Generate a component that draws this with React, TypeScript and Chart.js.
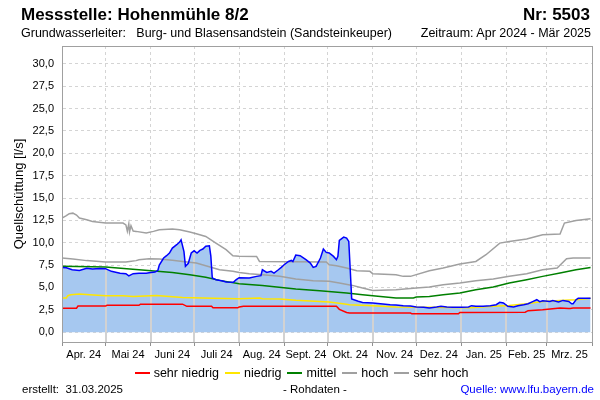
import React, { useEffect, useRef } from "react";
import { Chart, registerables } from "chart.js";

Chart.register(...registerables);

// ---- Axis / label data ----
const monthLabels = ["Apr. 24", "Mai 24", "Juni 24", "Juli 24", "Aug. 24", "Sept. 24", "Okt. 24", "Nov. 24", "Dez. 24", "Jan. 25", "Feb. 25", "Mrz. 25"];
const monthStartDays = [0, 30, 61, 91, 122, 153, 183, 214, 244, 275, 306, 334, 365];
const yTickValues = [0, 2.5, 5, 7.5, 10, 12.5, 15, 17.5, 20, 22.5, 25, 27.5, 30];
const legendLabels = ["sehr niedrig", "niedrig", "mittel", "hoch", "sehr hoch"];

// ---- Rohdaten (Quellschüttung, l/s), day index from 1 Apr 2024 ----
const flowDays = [0, 3, 7, 12, 17, 21, 26, 30, 34, 40, 44, 46, 49, 53, 58, 60, 64, 66, 67, 70, 72, 74, 76, 79, 81, 82, 84, 85, 87, 89, 91, 93, 95, 97, 99, 101.5, 102.5, 103.5, 106, 110, 113, 118, 120, 122, 129, 134, 137, 138, 141, 144, 146, 149, 151, 153, 156, 158, 159, 161, 164, 168, 171, 173, 175, 178, 180, 182, 184, 187, 189, 190, 191, 194, 196, 197.5, 198.5, 199.5, 204, 207, 214, 221, 226, 230, 235, 240, 244, 249, 253, 258, 261, 265, 269, 275, 280, 282, 285, 290, 295, 299, 301.5, 304, 307, 311, 314, 318, 321, 324.5, 327, 329, 331, 336, 338, 342, 345, 349, 351, 352, 354, 355.5, 364];
const flowValues = [7.24, 7.2, 6.98, 6.9, 7.15, 7.06, 7.13, 7.1, 6.8, 6.6, 6.54, 6.3, 6.54, 6.6, 6.6, 6.64, 6.72, 6.9, 7.5, 8.29, 8.55, 8.85, 9.4, 9.78, 10.07, 10.33, 9.0, 7.36, 7.7, 8.85, 9.1, 8.85, 9.15, 9.3, 9.6, 9.66, 8.5, 6.05, 5.87, 5.75, 5.6, 5.58, 5.87, 6.09, 6.05, 6.24, 6.32, 6.98, 6.68, 6.8, 6.61, 6.98, 7.24, 7.54, 7.9, 8.02, 7.9, 8.62, 8.55, 8.1, 7.73, 7.24, 7.36, 8.29, 9.29, 8.92, 8.85, 8.47, 8.1, 8.47, 10.26, 10.63, 10.52, 10.15, 7.0, 3.7, 3.45, 3.33, 3.26, 3.15, 3.07, 3.04, 2.96, 2.93, 2.81, 2.78, 2.7, 2.81, 2.89, 2.81, 2.78, 2.78, 2.81, 2.96, 2.89, 2.89, 2.96, 3.07, 3.33, 3.26, 2.89, 2.81, 2.96, 3.07, 3.18, 3.44, 3.63, 3.41, 3.52, 3.44, 3.55, 3.37, 3.55, 3.44, 3.18, 3.18, 3.63, 3.78, 3.78];

// ---- Reference lines ----
const sehrNiedrigDays = [0, 10, 11, 30, 31, 53, 54, 83, 86, 103, 104, 121, 122, 125, 189, 191, 196, 198, 240, 241, 273, 274, 319, 321, 331, 343, 349, 350, 352, 364];
const sehrNiedrigValues = [2.68, 2.68, 2.92, 2.92, 3.0, 3.0, 3.13, 3.13, 2.89, 2.89, 2.72, 2.72, 2.81, 2.89, 2.89, 2.55, 2.2, 2.14, 2.14, 2.05, 2.05, 2.2, 2.24, 2.4, 2.5, 2.7, 2.65, 2.65, 2.7, 2.7];

const niedrigDays = [0, 3, 4, 6, 12, 19, 30, 42, 49, 65, 83, 104, 122, 136, 138, 150, 161, 184, 193.5, 198, 214, 230, 253, 281, 297, 308, 320, 331, 343, 354, 364];
const niedrigValues = [3.82, 3.82, 4.08, 4.19, 4.26, 4.19, 4.08, 4.08, 4.0, 4.11, 3.89, 3.78, 3.74, 3.82, 3.74, 3.71, 3.56, 3.37, 3.18, 3.07, 2.96, 2.81, 2.78, 2.72, 2.89, 2.99, 3.18, 3.44, 3.55, 3.63, 3.8];

const mittelDays = [0, 30, 53, 76, 88, 99, 108.5, 122, 138, 161, 177.5, 196, 207, 214, 230, 242, 244, 253, 262.5, 274, 285, 297, 308, 320, 331, 343, 354, 364];
const mittelValues = [7.36, 7.28, 6.98, 6.68, 6.42, 6.13, 5.79, 5.42, 5.23, 4.82, 4.64, 4.38, 4.19, 4.08, 3.82, 3.82, 3.93, 4.0, 4.19, 4.38, 4.75, 5.05, 5.49, 5.87, 6.24, 6.61, 6.98, 7.24];

const hochDays = [0, 7.5, 17, 30, 44, 46.5, 51, 53, 60, 67, 76, 83, 92.5, 99, 108.5, 117.7, 122, 129, 138, 150, 161, 173, 184, 191, 200, 207, 214, 230, 244, 253, 262.5, 274, 285, 297, 308, 320, 331, 341, 347.5, 352, 364];
const hochValues = [8.29, 8.18, 8.0, 7.84, 7.84, 7.91, 8.0, 8.1, 8.2, 8.18, 8.03, 7.91, 7.73, 7.43, 6.98, 6.8, 6.68, 6.54, 6.42, 6.24, 5.94, 5.75, 5.68, 5.49, 5.23, 4.93, 4.67, 4.75, 4.93, 5.05, 5.3, 5.49, 5.75, 5.94, 6.24, 6.54, 6.98, 7.17, 8.2, 8.29, 8.29];

const sehrHochDays = [0, 3, 5, 7.5, 10, 12, 17, 21, 30, 42, 44, 45, 46, 46.5, 47.5, 49, 51, 58, 63, 67, 76, 81, 88, 92.5, 99, 106, 113, 117.7, 122, 134, 136, 182, 184, 189, 196, 203, 212, 214, 230, 235, 240, 253, 262.5, 274, 285, 292, 301.5, 308, 320, 331, 343, 346, 354, 364];
const sehrHochValues = [12.76, 13.02, 13.25, 13.31, 13.1, 12.76, 12.57, 12.38, 12.2, 12.2, 12.0, 11.3, 12.1, 11.2, 11.9, 11.3, 11.27, 11.08, 11.27, 11.45, 11.53, 11.45, 11.2, 11.0, 10.7, 9.96, 9.22, 8.55, 8.5, 8.47, 7.91, 7.84, 7.54, 7.43, 7.17, 6.87, 6.8, 6.54, 6.42, 6.24, 6.24, 6.87, 7.17, 7.61, 7.91, 8.66, 9.96, 10.15, 10.41, 10.89, 10.97, 12.2, 12.49, 12.68];

const FONT = "'Liberation Sans', Arial, Helvetica, sans-serif";
const FILL_COLOR = "#a6c8f0";
const legendColors = ["#ff0000", "#ffe600", "#008000", "#a0a0a0", "#a0a0a0"];

function toPoints(xs: number[], ys: number[]) {
  return xs.map((x, i) => ({ x, y: ys[i] }));
}

function interp(xs: number[], ys: number[], x: number) {
  if (x <= xs[0]) return ys[0];
  for (let i = 1; i < xs.length; i++) {
    if (x <= xs[i]) {
      const t = (x - xs[i - 1]) / (xs[i] - xs[i - 1]);
      return ys[i - 1] + t * (ys[i] - ys[i - 1]);
    }
  }
  return ys[ys.length - 1];
}

const monthMids = monthLabels.map((_, i) => (monthStartDays[i] + monthStartDays[i + 1]) / 2);

const monthLinesPlugin = {
  id: "monthLines",
  afterDatasetDraw(chart: any, args: any) {
    if (args.index !== 0) return;
    const { ctx, chartArea, scales } = chart;
    ctx.save();
    ctx.strokeStyle = "#d2d2d2";
    ctx.lineWidth = 2;
    for (const d of monthStartDays.slice(1, -1)) {
      const v = interp(flowDays, flowValues, d);
      const x = Math.round(scales.x.getPixelForValue(d));
      ctx.beginPath();
      ctx.moveTo(x, chartArea.bottom);
      ctx.lineTo(x, scales.y.getPixelForValue(v));
      ctx.stroke();
    }
    ctx.restore();
  },
  afterDraw(chart: any) {
    const { ctx, chartArea } = chart;
    ctx.save();
    ctx.strokeStyle = "#a0a0a0";
    ctx.lineWidth = 1;
    ctx.strokeRect(
      Math.round(chartArea.left) + 0.5,
      Math.round(chartArea.top) + 0.5,
      Math.round(chartArea.right - chartArea.left),
      Math.round(chartArea.bottom - chartArea.top)
    );
    ctx.restore();
  },
};

function ChartCanvas() {
  const ref = useRef<HTMLCanvasElement | null>(null);
  useEffect(() => {
    if (!ref.current) return;
    const lineDs = (label: string, xs: number[], ys: number[], color: string, order: number) => ({
      label,
      data: toPoints(xs, ys),
      borderColor: color,
      backgroundColor: color,
      borderWidth: 1.5,
      pointRadius: 0,
      fill: false,
      tension: 0,
      order,
    });
    const chart = new Chart(ref.current, {
      type: "line",
      data: {
        datasets: [
          {
            label: "fill",
            data: toPoints(flowDays, flowValues),
            borderWidth: 0,
            borderColor: "rgba(0,0,0,0)",
            backgroundColor: FILL_COLOR,
            pointRadius: 0,
            fill: { value: 0 },
            tension: 0,
            order: 10,
          },
          lineDs(legendLabels[4], sehrHochDays, sehrHochValues, legendColors[4], 6),
          lineDs(legendLabels[3], hochDays, hochValues, legendColors[3], 5),
          lineDs(legendLabels[2], mittelDays, mittelValues, legendColors[2], 4),
          lineDs(legendLabels[1], niedrigDays, niedrigValues, legendColors[1], 3),
          lineDs(legendLabels[0], sehrNiedrigDays, sehrNiedrigValues, legendColors[0], 2),
          lineDs("Rohdaten", flowDays, flowValues, "#0000ff", 1),
        ],
      },
      options: {
        responsive: false,
        maintainAspectRatio: false,
        animation: false,
        devicePixelRatio: 1,
        layout: { padding: { top: 46, right: 8, bottom: 38, left: 0 } },
        plugins: {
          legend: { display: false },
          tooltip: { enabled: false },
          title: { display: false },
        },
        scales: {
          x: {
            type: "linear",
            min: 0,
            max: 365,
            afterBuildTicks: (axis: any) => {
              const vals = [...monthStartDays, ...monthMids].sort((a, b) => a - b);
              axis.ticks = vals.map((v) => ({ value: v }));
            },
            afterFit: (s: any) => {
              s.height = 20;
            },
            ticks: {
              autoSkip: false,
              maxRotation: 0,
              minRotation: 0,
              padding: 2,
              color: "#000",
              font: { family: FONT, size: 11 },
              callback: (value: any) => {
                const i = monthMids.findIndex((m) => Math.abs(m - Number(value)) < 0.01);
                return i >= 0 ? monthLabels[i] : "";
              },
            },
            grid: {
              color: (ctx: any) =>
                ctx.tick && monthStartDays.includes(ctx.tick.value) ? "#d4d4d4" : "rgba(0,0,0,0)",
              tickColor: (ctx: any) =>
                ctx.tick && monthStartDays.includes(ctx.tick.value) ? "#909090" : "rgba(0,0,0,0)",
              tickLength: 4,
              lineWidth: 1,
            },
            border: { display: true, color: "#a0a0a0", dash: [3, 3] },
          },
          y: {
            type: "linear",
            min: -1.1,
            max: 32,
            afterBuildTicks: (axis: any) => {
              axis.ticks = yTickValues.map((v) => ({ value: v }));
            },
            afterFit: (s: any) => {
              s.width = 62;
            },
            ticks: {
              padding: 8,
              color: "#000",
              font: { family: FONT, size: 11 },
              callback: (value: any) => Number(value).toFixed(1).replace(".", ","),
            },
            grid: { color: "#d4d4d4", drawTicks: false, lineWidth: 1 },
            border: { display: true, color: "#a0a0a0", dash: [3, 3] },
            title: {
              display: true,
              text: "Quellschüttung [l/s]",
              color: "#000",
              font: { family: FONT, size: 13 },
              padding: { top: 12, bottom: 0 },
            },
          },
        },
      } as any,
      plugins: [monthLinesPlugin],
    });
    return () => chart.destroy();
  }, []);
  return <canvas ref={ref} width={600} height={400} style={{ position: "absolute", left: 0, top: 0 }} />;
}

const textBase: React.CSSProperties = {
  position: "absolute",
  fontFamily: FONT,
  color: "#000",
  whiteSpace: "pre",
  lineHeight: 1,
};

export default function App() {
  return (
    <div style={{ position: "fixed", left: 0, top: 0, width: 600, height: 400, background: "#fff", overflow: "hidden" }}>
      <ChartCanvas />
      <div style={{ ...textBase, left: 21, top: 6, fontSize: 17, fontWeight: "bold" }}>Messstelle: Hohenmühle 8/2</div>
      <div style={{ ...textBase, right: 10, top: 6, fontSize: 17, fontWeight: "bold", textAlign: "right" }}>Nr: 5503</div>
      <div style={{ ...textBase, left: 21, top: 27, fontSize: 12.5 }}>{"Grundwasserleiter:   Burg- und Blasensandstein (Sandsteinkeuper)"}</div>
      <div style={{ ...textBase, right: 9, top: 27, fontSize: 12.5, textAlign: "right" }}>Zeitraum: Apr 2024 - Mär 2025</div>

      <div style={{ position: "absolute", left: 0, width: 603, top: 366, height: 14, display: "flex", justifyContent: "center", alignItems: "center" }}>
        {legendLabels.map((l, i) => (
          <div key={l} style={{ display: "flex", alignItems: "center", marginRight: i < legendLabels.length - 1 ? 6 : 0 }}>
            <div style={{ width: 15, height: 2, background: legendColors[i], marginRight: 4 }} />
            <span style={{ fontFamily: FONT, fontSize: 12.5, color: "#000", lineHeight: 1, whiteSpace: "pre" }}>{l}</span>
          </div>
        ))}
      </div>

      <div style={{ ...textBase, left: 22, top: 384, fontSize: 11.5 }}>{"erstellt:  31.03.2025"}</div>
      <div style={{ ...textBase, left: 283, top: 384, fontSize: 11.5 }}>- Rohdaten -</div>
      <div style={{ ...textBase, right: 6, top: 384, fontSize: 11.5, color: "#0000ff", textAlign: "right" }}>Quelle: www.lfu.bayern.de</div>
    </div>
  );
}
